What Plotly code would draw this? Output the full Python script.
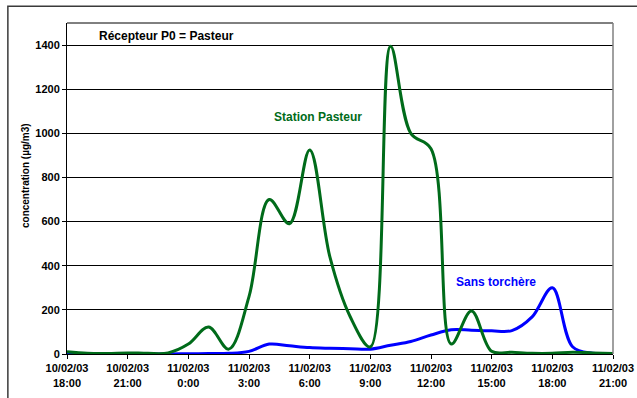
import pandas as pd
import plotly.graph_objects as go

# Hourly readings, 10/02/03 18:00 -> 11/02/03 21:00
times = pd.date_range("2003-02-10 18:00", periods=28, freq="h")

station_pasteur = [10, 3, 2, 5, 3, 5, 45, 122, 22, 260, 700, 590, 925, 440,
                   170, 32, 1395, 1000, 930, 45, 195, 12, 8, 3, 3, 8, 5, 2]
sans_torchere = [1, 0, 0, 0, 0, 0, 1, 2, 3, 12, 45, 37, 29, 26,
                 24, 22, 40, 57, 86, 110, 108, 105, 106, 168, 300, 33, 3, 0]

tick_times = pd.date_range("2003-02-10 18:00", periods=10, freq="3h")
tick_labels = ["10/02/03<br>18:00", "10/02/03<br>21:00", "11/02/03<br>0:00",
               "11/02/03<br>3:00", "11/02/03<br>6:00", "11/02/03<br>9:00",
               "11/02/03<br>12:00", "11/02/03<br>15:00", "11/02/03<br>18:00",
               "11/02/03<br>21:00"]
y_ticks = [0, 200, 400, 600, 800, 1000, 1200, 1400]

GREEN = "#006b1a"
BLUE = "#0000ff"
FONT = "Liberation Sans, Arial, sans-serif"

fig = go.Figure()
fig.add_trace(go.Scatter(x=times, y=sans_torchere, mode="lines",
                         line=dict(color=BLUE, width=3, shape="spline", smoothing=1)))
fig.add_trace(go.Scatter(x=times, y=station_pasteur, mode="lines",
                         line=dict(color=GREEN, width=3, shape="spline", smoothing=1)))

fig.update_layout(
    width=637, height=398,
    margin=dict(l=67, r=24, t=23, b=44),
    paper_bgcolor="white", plot_bgcolor="white",
    showlegend=False,
    font=dict(family=FONT, size=11, color="black"),
)
fig.update_xaxes(
    range=[times[0], times[-1]],
    tickvals=tick_times, ticktext=tick_labels,
    tickfont=dict(family=FONT, size=11, color="black", weight="bold"),
    ticks="outside", ticklen=4, tickcolor="black",
    showline=True, linecolor="black", linewidth=1,
    showgrid=False, zeroline=False, automargin=False,
)
fig.update_yaxes(
    range=[0, 1500],
    tickvals=y_ticks,
    tickfont=dict(family=FONT, size=11, color="black", weight="bold"),
    ticks="outside", ticklen=4, tickcolor="black",
    showline=True, linecolor="black", linewidth=1,
    showgrid=True, gridcolor="black", gridwidth=1,
    zeroline=False, automargin=False,
)

# plot-area border: black top, grey right
fig.add_shape(type="line", xref="paper", yref="paper", x0=0, x1=1, y0=1, y1=1,
              line=dict(color="black", width=1))
fig.add_shape(type="line", xref="paper", yref="paper", x0=1, x1=1, y0=0, y1=1,
              line=dict(color="#808080", width=1.5))
# outer chart frame
fig.add_shape(type="rect", xref="paper", yref="paper",
              x0=-0.1083, x1=1.3, y0=-0.3, y1=1.0508,
              line=dict(color="#3a3a3a", width=1.5), layer="below")

label_style = dict(xref="paper", yref="paper", showarrow=False,
                   xanchor="center", yanchor="middle")
fig.add_annotation(text="concentration (µg/m3)", x=-0.0763, y=0.5387,
                   textangle=-90,
                   font=dict(family=FONT, size=10, color="black", weight="bold"),
                   **label_style)
fig.add_annotation(text="Récepteur P0 = Pasteur", x=0.1831, y=0.9595,
                   font=dict(family=FONT, size=12, color="black", weight="bold"),
                   **label_style)
fig.add_annotation(text="Station Pasteur", x=0.4598, y=0.7160,
                   font=dict(family=FONT, size=12, color=GREEN, weight="bold"),
                   **label_style)
fig.add_annotation(text="Sans torchère", x=0.7860, y=0.2163,
                   font=dict(family=FONT, size=12, color=BLUE, weight="bold"),
                   **label_style)

fig.write_html("out.html")
